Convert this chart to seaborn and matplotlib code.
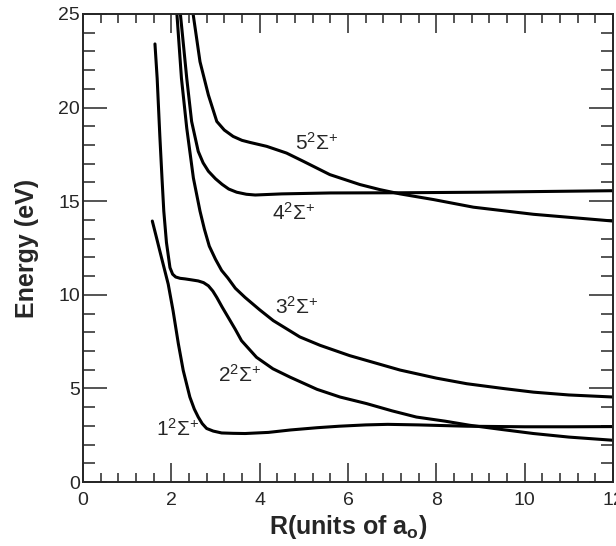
import numpy as np
import pandas as pd
import seaborn as sns
import matplotlib
matplotlib.use("Agg")
import matplotlib.pyplot as plt
from matplotlib.ticker import MultipleLocator

# potential curves (R in units of a0, energy in eV)
r_1 = [1.57, 1.66, 1.74, 1.83, 1.93, 2.04, 2.16, 2.27, 2.42, 2.52, 2.61, 2.7, 2.8, 2.95, 3.14, 3.4, 3.67,
       4.2, 4.7, 5.3, 5.8, 6.4, 6.9, 7.6, 8.7, 10.0, 11.0, 12.0]
e_1 = [13.94, 13.1, 12.34, 11.5, 10.57, 9.15, 7.38, 5.96, 4.54, 3.9, 3.47, 3.12, 2.86, 2.72, 2.62, 2.6, 2.59,
       2.65, 2.78, 2.9, 2.98, 3.05, 3.08, 3.05, 2.98, 2.95, 2.95, 2.96]

r_2 = [1.63, 1.68, 1.74, 1.79, 1.83, 1.89, 1.97, 2.03, 2.1, 2.2, 2.31, 2.45, 2.61, 2.73, 2.84, 2.94, 3.03,
       3.15, 3.29, 3.45, 3.59, 3.93, 4.3, 4.69, 5.3, 5.82, 6.42, 7.0, 7.55, 8.2, 8.76, 9.5, 10.2, 11.0, 12.0]
e_2 = [23.4, 21.56, 18.5, 16.2, 14.47, 12.8, 11.45, 11.1, 10.95, 10.88, 10.85, 10.8, 10.74, 10.65, 10.48, 10.2, 9.86,
       9.35, 8.79, 8.15, 7.55, 6.66, 6.05, 5.6, 4.95, 4.54, 4.19, 3.8, 3.47, 3.25, 3.03, 2.8, 2.59, 2.4, 2.23]

r_3 = [2.1, 2.13, 2.23, 2.35, 2.5, 2.65, 2.75, 2.86, 3.0, 3.14, 3.28, 3.45, 3.67, 4.0, 4.31, 4.91, 5.37,
       6.04, 7.18, 8.0, 8.69, 9.5, 10.2, 11.0, 12.0]
e_3 = [25.7, 24.9, 21.56, 18.9, 16.24, 14.47, 13.5, 12.6, 11.9, 11.3, 10.9, 10.35, 9.86, 9.2, 8.62, 7.75, 7.3,
       6.75, 5.98, 5.55, 5.25, 5.0, 4.8, 4.65, 4.54]

r_4 = [2.18, 2.21, 2.35, 2.46, 2.61, 2.72, 2.84, 3.0, 3.15, 3.3, 3.48, 3.7, 3.9, 4.2, 4.5, 5.6, 7.2, 9.0, 10.5, 12.0]
e_4 = [26.0, 24.9, 21.56, 19.26, 17.66, 17.05, 16.6, 16.2, 15.9, 15.65, 15.48, 15.37, 15.33, 15.36, 15.39, 15.44,
       15.45, 15.48, 15.52, 15.56]

r_5 = [2.48, 2.5, 2.65, 2.84, 3.03, 3.2, 3.4, 3.6, 3.78, 4.16, 4.61, 4.99, 5.59, 6.27, 6.72, 7.18, 7.93, 8.84,
       10.2, 12.0]
e_5 = [25.3, 24.9, 22.45, 20.67, 19.26, 18.8, 18.46, 18.25, 18.14, 17.93, 17.57, 17.13, 16.42, 15.89, 15.62,
       15.39, 15.09, 14.68, 14.3, 13.94]

state_names = ["1", "2", "3", "4", "5"]
label_r = [2.14, 3.55, 4.84, 4.77, 5.29]
label_e = [2.82, 5.74, 9.36, 14.4, 18.14]

df = pd.concat([
    pd.DataFrame({"R": r, "E": e, "state": s})
    for r, e, s in zip([r_1, r_2, r_3, r_4, r_5], [e_1, e_2, e_3, e_4, e_5], state_names)
])

sns.set_style("ticks")
plt.rcParams["font.family"] = ["Liberation Sans", "DejaVu Sans"]
plt.rcParams["mathtext.fontset"] = "custom"
plt.rcParams["mathtext.rm"] = "Liberation Sans"
plt.rcParams["mathtext.it"] = "Liberation Sans:italic"
plt.rcParams["mathtext.bf"] = "Liberation Sans:bold"

fig = plt.figure(figsize=(6.16, 5.46), dpi=100)
ax = fig.add_axes([0.1347, 0.1172, 0.8603, 0.8572])

for s in state_names:
    sns.lineplot(data=df[df["state"] == s], x="R", y="E", color="black",
                 linewidth=2.2, estimator=None, sort=False, ax=ax)

for s, x, y in zip(state_names, label_r, label_e):
    ax.text(x, y, s + r"$^{2}\Sigma^{+}$", fontsize=15, ha="center", va="center")

ax.set_xlim(0, 12)
ax.set_ylim(0, 25)
ax.xaxis.set_major_locator(MultipleLocator(2))
ax.xaxis.set_minor_locator(MultipleLocator(0.4))
ax.yaxis.set_major_locator(MultipleLocator(5))
ax.yaxis.set_minor_locator(MultipleLocator(1))
ax.tick_params(axis="x", which="major", direction="in", top=True, length=14, width=1.1,
               labelsize=14, pad=7)
ax.tick_params(axis="x", which="minor", direction="in", top=True, length=6.5, width=1.1)
ax.tick_params(axis="y", which="major", direction="in", right=True, length=17, width=1.1,
               labelsize=14, pad=2)
ax.tick_params(axis="y", which="minor", direction="in", right=True, length=8.5, width=1.1)
for sp in ax.spines.values():
    sp.set_linewidth(1.4)

ax.set_xlabel(r"R(units of a$_{\mathbf{o}}$)", fontsize=18, fontweight="bold", labelpad=3)
ax.set_ylabel("Energy (eV)", fontsize=18, fontweight="bold", labelpad=14)

fig.savefig("out.png", dpi=100)
